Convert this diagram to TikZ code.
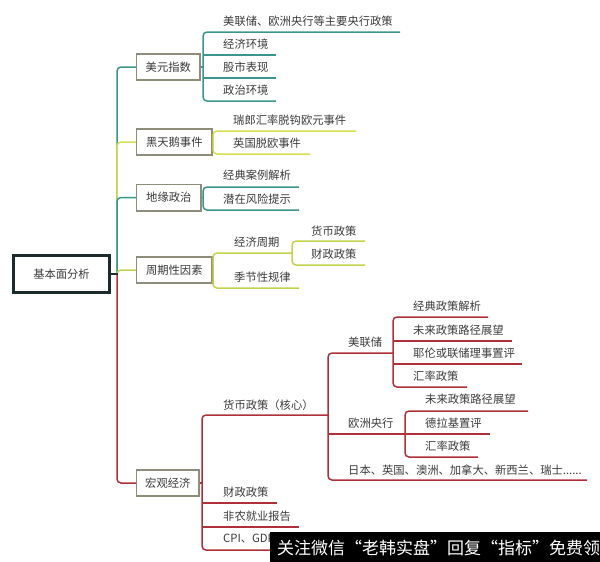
\documentclass[tikz,border=0pt]{standalone}
\usepackage{fontspec}
\setmainfont{Noto Sans CJK SC}
\definecolor{cteal}{HTML}{3A968C}
\definecolor{cyel}{HTML}{D6DF4E}
\definecolor{cgrn}{HTML}{C3D24C}
\definecolor{cred}{HTML}{B0303A}
\definecolor{cbox}{HTML}{8E8C7A}
\definecolor{croot}{HTML}{1C2C2C}
\definecolor{ctext}{HTML}{3A3A3A}
\begin{document}
\begin{tikzpicture}[x=1pt,y=-1pt,
  every node/.style={font=\fontsize{11.3}{13}\selectfont, text=ctext},
  lvl/.style={draw=cbox, line width=1.6pt, fill=white, minimum height=26.4pt, inner sep=0pt, anchor=west},
  rootbox/.style={draw=croot, line width=3pt, fill=white, minimum width=96pt, minimum height=37.5pt, inner sep=0pt},
  leaf/.style={anchor=west, inner sep=0pt},
  link/.style={line width=1.5pt, rounded corners=4pt},
  banner/.style={anchor=west, inner sep=0pt, text=white, font=\fontsize{17}{20}\selectfont},
]
\useasboundingbox (0,0) rectangle (600,562);

% root and first level
\node[rootbox] (root) at (61.5,274) {基本面分析};
\node[lvl, minimum width=63.4pt] (m1) at (135.8,67) {美元指数};
\node[lvl, minimum width=75.4pt] (m2) at (135.8,142) {黑天鹅事件};
\node[lvl, minimum width=64.4pt] (m3) at (135.8,197.5) {地缘政治};
\node[lvl, minimum width=75.4pt] (m4) at (135.8,270) {周期性因素};
\node[lvl, minimum width=62.4pt] (m5) at (135.8,483) {宏观经济};

% trunk
\draw[link, cteal] (117,274) |- (m1.west);
\draw[link, cyel] (117,274) |- (m2.west);
\draw[link, cteal] (117,274) |- (m3.west);
\draw[link, cgrn] (117,274) |- (m4.west);
\draw[link, cred] (117,274) |- (m5.west);
\draw[line width=1.5pt, croot] (root.east) -- (117.75,274);

% 美元指数
\node[leaf] (a1) at (223,21) {美联储、欧洲央行等主要央行政策};
\node[leaf] (a2) at (223,44) {经济环境};
\node[leaf] (a3) at (223,67) {股市表现};
\node[leaf] (a4) at (223,90) {政治环境};
\draw[link, cteal] (m1.east) -- (203,67);
\draw[link, cteal] (400,32) -- (203,32) -- (203,101) -- (276,101);
\draw[link, cteal] (203,55) -- (276,55);
\draw[link, cteal] (203,78) -- (276,78);

% 黑天鹅事件
\node[leaf] (b1) at (233,120) {瑞郎汇率脱钩欧元事件};
\node[leaf] (b2) at (233,143) {英国脱欧事件};
\draw[link, cyel] (m2.east) -- (213,142);
\draw[link, cyel] (356,131) -- (213,131) -- (213,154) -- (310,154);

% 地缘政治
\node[leaf] (c1) at (223,175) {经典案例解析};
\node[leaf] (c2) at (223,199) {潜在风险提示};
\draw[link, cteal] (m3.east) -- (203,197.5);
\draw[link, cteal] (299,187) -- (203,187) -- (203,210) -- (299,210);

% 周期性因素
\node[leaf] (d1) at (234,242) {经济周期};
\node[leaf] (d2) at (234,277) {季节性规律};
\node[leaf] (d3) at (311,231) {货币政策};
\node[leaf] (d4) at (311,254) {财政政策};
\draw[link, cgrn] (m4.east) -- (213,270);
\draw[link, cgrn] (292,253) -- (213,253) -- (213,288) -- (299,288);
\draw[link, cgrn] (365,241) -- (292,241) -- (292,265) -- (365,265);

% 宏观经济
\node[leaf] (e1) at (223,405) {货币政策（核心）};
\node[leaf] (e2) at (223,492) {财政政策};
\node[leaf] (e3) at (223,516) {非农就业报告};
\node[leaf] (e4) at (223,539) {CPI、GDP};
\draw[link, cred] (m5.east) -- (202,483);
\draw[link, cred] (328,415) -- (202,415) -- (202,550) -- (300,550);
\draw[link, cred] (202,503) -- (277,503);
\draw[link, cred] (202,527) -- (299,527);

% 货币政策（核心）
\node[leaf] (f1) at (348,342) {美联储};
\node[leaf] (f2) at (348,423) {欧洲央行};
\node[leaf] (f3) at (348,470) {日本、英国、澳洲、加拿大、新西兰、瑞士......};
\draw[link, cred] (393,353) -- (328,353) -- (328,480) -- (587,480);
\draw[link, cred] (328,434) -- (405,434);

% 美联储
\node[leaf] (g1) at (413,306) {经典政策解析};
\node[leaf] (g2) at (413,330) {未来政策路径展望};
\node[leaf] (g3) at (413,353) {耶伦或联储理事置评};
\node[leaf] (g4) at (413,376) {汇率政策};
\draw[link, cred] (488,317) -- (393,317) -- (393,387) -- (467,387);
\draw[link, cred] (393,341) -- (512,341);
\draw[link, cred] (393,364) -- (522,364);

% 欧洲央行
\node[leaf] (h1) at (425,399) {未来政策路径展望};
\node[leaf] (h2) at (425,423) {德拉基置评};
\node[leaf] (h3) at (425,446) {汇率政策};
\draw[link, cred] (528,411) -- (405,411) -- (405,457) -- (478,457);
\draw[link, cred] (405,434) -- (490,434);

% watermark banner
\fill[black] (270,532) rectangle (600,562);
\node[banner] (wm) at (277,547.5) {关注微信“老韩实盘”回复“指标”免费领};
\end{tikzpicture}
\end{document}
